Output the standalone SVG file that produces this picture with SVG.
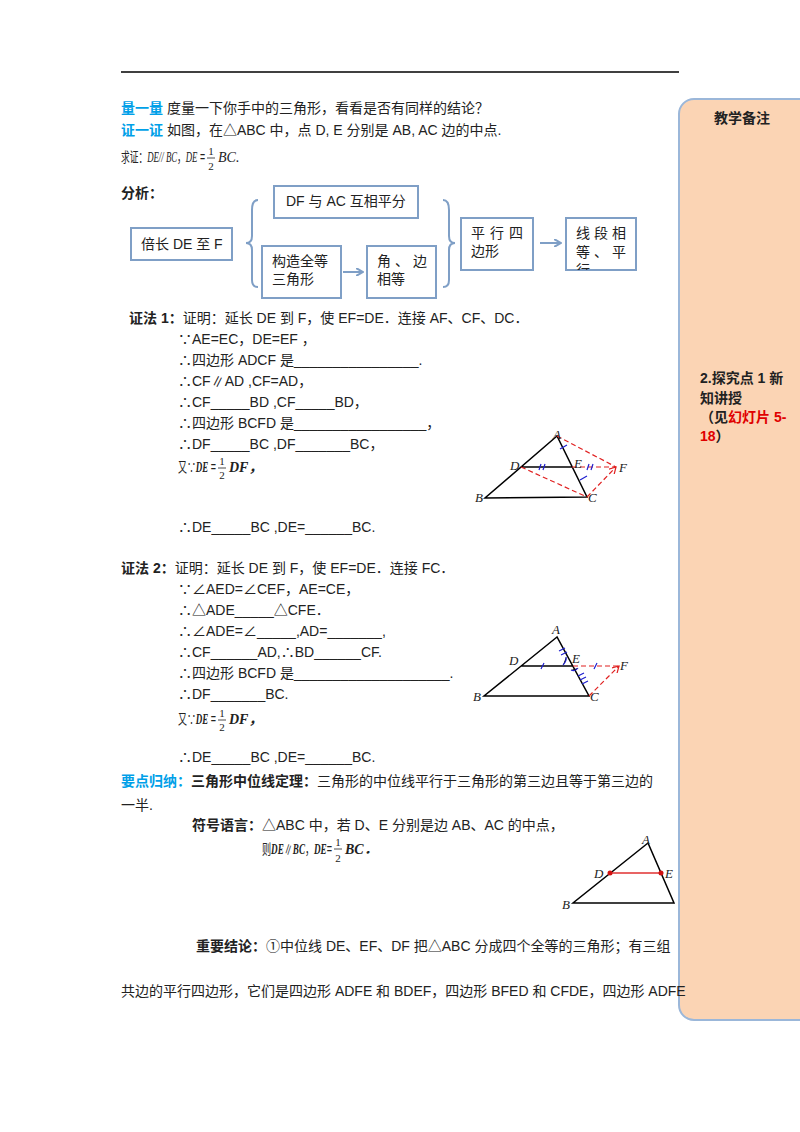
<svg xmlns="http://www.w3.org/2000/svg" width="800" height="1132" viewBox="0 0 800 1132">
<defs>
<style>
text{font-family:"Liberation Sans","Noto Sans CJK SC",sans-serif;font-size:14px;fill:#222}
.b{font-weight:bold}
.bl{fill:#00a0e8;font-weight:bold}
.m{font-family:"Liberation Serif","Noto Sans CJK SC",serif;font-style:italic}
.s{font-family:"Liberation Serif","Noto Sans CJK SC",serif;font-size:11px}
.box{fill:#fff;stroke:#7f9fc6;stroke-width:2}
.ar{stroke:#7f9fc6;stroke-width:2;fill:none}
.tri{stroke:#000;stroke-width:1.5;fill:none}
.rd{stroke:#e02020;stroke-width:1.2;fill:none;stroke-dasharray:5,3}
.tk{stroke:#2020d0;stroke-width:1.2}
.lb{font-family:"Liberation Serif",serif;font-style:italic;font-size:13px}
</style>
<marker id="ah" markerWidth="8" markerHeight="8" refX="7" refY="4" orient="auto" markerUnits="userSpaceOnUse"><path d="M0,0 L7,4 L0,8" fill="none" stroke="#7f9fc6" stroke-width="2"/></marker>
<marker id="rh" markerWidth="8" markerHeight="8" refX="7" refY="4" orient="auto" markerUnits="userSpaceOnUse"><path d="M0,0 L7,4 L0,8" fill="none" stroke="#e02020" stroke-width="1.2"/></marker>
<clipPath id="cl"><rect x="566" y="218" width="70" height="52"/></clipPath>
</defs>
<rect width="800" height="1132" fill="#fff"/>
<line x1="121" y1="72" x2="679" y2="72" stroke="#000" stroke-width="1.3"/>

<g id="panel">
<rect x="679" y="99" width="140" height="921" rx="15" fill="#fbd4b4" stroke="#9bb7d9" stroke-width="2"/>
<text x="742" y="123" class="b" text-anchor="middle">教学备注</text>
<text x="700" y="383" class="b">2.探究点 1 新</text>
<text x="700" y="403" class="b">知讲授</text>
<text x="700" y="422" class="b">（见<tspan fill="#e00000">幻灯片 5-</tspan></text>
<text x="700" y="441" class="b"><tspan fill="#e00000">18</tspan>）</text>
</g>

<g id="intro">
<text x="121" y="113"><tspan class="bl">量一量</tspan> 度量一下你手中的三角形，看看是否有同样的结论？</text>
<text x="121" y="135"><tspan class="bl">证一证</tspan> 如图，在△ABC 中，点 D, E 分别是 AB, AC 边的中点.</text>
<text x="121" y="162" font-size="12" textLength="84" lengthAdjust="spacingAndGlyphs">求证：<tspan class="m">DE// BC</tspan>，<tspan class="m">DE</tspan> =</text>
<text x="211" y="155" class="s" text-anchor="middle">1</text>
<line x1="207" y1="158" x2="215" y2="158" stroke="#222" stroke-width="0.8"/>
<text x="211" y="170" class="s" text-anchor="middle">2</text>
<text x="218" y="162" class="m" font-size="13">BC.</text>
<text x="121" y="198" class="b">分析：</text>
</g>

<g id="n1"><rect class="box" x="131" y="228" width="101" height="32"/><text x="141" y="249">倍长 DE 至 F</text></g>
<g id="n2"><rect class="box" x="274" y="186" width="144" height="32"/><text x="286" y="206">DF 与 AC 互相平分</text></g>
<g id="n3"><rect class="box" x="262" y="246" width="79" height="52"/><text x="272" y="266">构造全等</text><text x="272" y="284">三角形</text></g>
<g id="n4"><rect class="box" x="367" y="246" width="69" height="52"/><text x="377" y="266" letter-spacing="4">角、边</text><text x="377" y="284">相等</text></g>
<g id="n5"><rect class="box" x="461" y="218" width="72" height="52"/><text x="471" y="238" letter-spacing="5">平行四</text><text x="471" y="256">边形</text></g>
<g id="n6"><rect class="box" x="566" y="218" width="70" height="52"/><g clip-path="url(#cl)"><text x="576" y="238" letter-spacing="4">线段相</text><text x="576" y="257" letter-spacing="4">等、平</text><text x="576" y="275">行</text></g></g>

<g id="connectors">
<path class="ar" d="M258,200 Q252,200 252,210 L252,236 Q252,243 246,243 Q252,243 252,250 L252,280 Q252,287 258,287" stroke-width="1.5"/>
<path class="ar" d="M443,200 Q449,200 449,210 L449,236 Q449,243 455,243 Q449,243 449,250 L449,280 Q449,287 443,287" stroke-width="1.5"/>
<line class="ar" x1="343" y1="272" x2="363" y2="272" marker-end="url(#ah)"/>
<line class="ar" x1="540" y1="243" x2="561" y2="243" marker-end="url(#ah)"/>
</g>

<g id="proof1">
<text x="129" y="323"><tspan class="b">证法 1：</tspan>证明：延长 DE 到 F，使 EF=DE．连接 AF、CF、DC．</text>
<text x="178" y="344">∵AE=EC，DE=EF ，</text>
<text x="178" y="365">∴四边形 ADCF 是________________.</text>
<text x="178" y="386">∴CF∥AD ,CF=AD，</text>
<text x="178" y="407">∴CF_____BD ,CF_____BD，</text>
<text x="178" y="428">∴四边形 BCFD 是_________________，</text>
<text x="178" y="449">∴DF_____BC ,DF_______BC，</text>
<text x="178" y="472" font-size="12" textLength="38" lengthAdjust="spacingAndGlyphs">又∵<tspan class="m" font-weight="bold">DE</tspan> =</text>
<text x="222" y="465" class="s" text-anchor="middle">1</text>
<line x1="218" y1="468" x2="226" y2="468" stroke="#222" stroke-width="0.8"/>
<text x="222" y="479" class="s" text-anchor="middle">2</text>
<text x="229" y="472" class="m" font-weight="bold" font-size="12">DF，</text>
<text x="178" y="532">∴DE_____BC ,DE=______BC.</text>
</g>

<g id="fig1">
<path class="tri" d="M557,436 L485,498 L587,497 Z M521,467 L572,467"/>
<path class="rd" d="M557,436 L616,467 M572,467 L616,467 M521,467 L587,497 M587,497 L616,467" marker-end="url(#rh)"/>
<path class="tk" d="M560,449 l7,-4 M580,480 l7,-4 M541,464 l-2,6 M545,464 l-2,6 M589,464 l-2,6 M593,464 l-2,6"/>
<text x="553" y="439" class="lb">A</text><text x="510" y="470" class="lb">D</text><text x="574" y="468" class="lb">E</text><text x="619" y="472" class="lb">F</text><text x="475" y="502" class="lb">B</text><text x="588" y="502" class="lb">C</text>
</g>

<g id="proof2">
<text x="121" y="573"><tspan class="b">证法 2：</tspan>证明：延长 DE 到 F，使 EF=DE．连接 FC．</text>
<text x="178" y="594">∵∠AED=∠CEF，AE=CE，</text>
<text x="178" y="615">∴△ADE_____△CFE．</text>
<text x="178" y="636">∴∠ADE=∠_____,AD=_______,</text>
<text x="178" y="657">∴CF______AD,∴BD______CF.</text>
<text x="178" y="678">∴四边形 BCFD 是____________________.</text>
<text x="178" y="699">∴DF_______BC.</text>
<text x="178" y="724" font-size="12" textLength="38" lengthAdjust="spacingAndGlyphs">又∵<tspan class="m" font-weight="bold">DE</tspan> =</text>
<text x="222" y="717" class="s" text-anchor="middle">1</text>
<line x1="218" y1="720" x2="226" y2="720" stroke="#222" stroke-width="0.8"/>
<text x="222" y="731" class="s" text-anchor="middle">2</text>
<text x="229" y="724" class="m" font-weight="bold" font-size="12">DF，</text>
<text x="178" y="762">∴DE_____BC ,DE=______BC.</text>
</g>

<g id="fig2">
<path class="tri" d="M557,637 L484,696 L589,696 Z M521,666 L573,666"/>
<path class="rd" d="M573,666 L619,666 M589,696 L619,666" marker-end="url(#rh)"/>
<path class="tk" d="M559,651 l6,-3 M561,655 l6,-3 M578,676 l6,-3 M580,680 l6,-3 M582,684 l6,-3 M544,663 l-3,6 M597,663 l-3,6 M563,665 q4,-4 3,-8 M571,670 q4,2 7,-2"/>
<text x="552" y="634" class="lb">A</text><text x="509" y="665" class="lb">D</text><text x="572" y="663" class="lb">E</text><text x="620" y="670" class="lb">F</text><text x="473" y="701" class="lb">B</text><text x="590" y="701" class="lb">C</text>
</g>

<g id="summary">
<text x="121" y="786"><tspan class="bl">要点归纳：</tspan><tspan class="b">三角形中位线定理：</tspan>三角形的中位线平行于三角形的第三边且等于第三边的</text>
<text x="121" y="810">一半.</text>
<text x="192" y="830"><tspan class="b">符号语言：</tspan>△ABC 中，若 D、E 分别是边 AB、AC 的中点，</text>
<text x="262" y="854" font-size="12" textLength="70" lengthAdjust="spacingAndGlyphs">则<tspan class="m" font-weight="bold">DE</tspan>∥<tspan class="m" font-weight="bold">BC</tspan>，<tspan class="m" font-weight="bold">DE</tspan>=</text>
<text x="338" y="846" class="s" text-anchor="middle">1</text>
<line x1="334" y1="849" x2="342" y2="849" stroke="#222" stroke-width="0.8"/>
<text x="338" y="862" class="s" text-anchor="middle">2</text>
<text x="345" y="854" class="m" font-weight="bold" font-size="12">BC．</text>
<text x="196" y="951"><tspan class="b">重要结论：</tspan>①中位线 DE、EF、DF 把△ABC 分成四个全等的三角形；有三组</text>
<text x="121" y="996">共边的平行四边形，它们是四边形 ADFE 和 BDEF，四边形 BFED 和 CFDE，四边形 ADFE</text>
</g>

<g id="fig3">
<path class="tri" d="M648,843 L573,903 L674,903 Z"/>
<line x1="610" y1="873" x2="661" y2="873" stroke="#e03030" stroke-width="1.3"/>
<circle cx="610" cy="873" r="2.5" fill="#d01010"/><circle cx="661" cy="873" r="2.5" fill="#d01010"/>
<text x="642" y="844" class="lb">A</text><text x="594" y="878" class="lb">D</text><text x="665" y="878" class="lb">E</text><text x="562" y="909" class="lb">B</text>
</g>
</svg>
